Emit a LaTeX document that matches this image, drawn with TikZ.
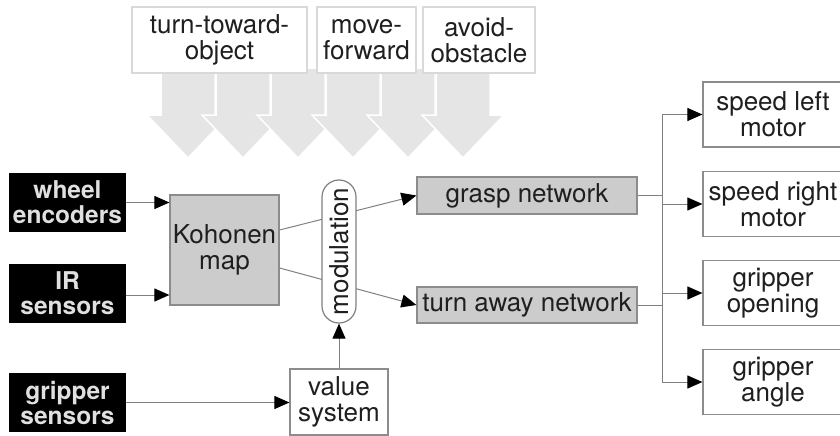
\documentclass[tikz,border=0pt]{standalone}
\usepackage{fontspec}
\setmainfont{TeX Gyre Heros}
\usetikzlibrary{arrows.meta,calc}
\begin{document}
\begin{tikzpicture}[x=1pt,y=-1pt,
  every node/.style={font=\fontsize{26}{26}\selectfont, align=center, inner sep=0pt, text=black!88},
  wbox/.style={draw=black!45, fill=white, line width=1.2pt},
  gbox/.style={draw=black!45, fill=black!20, line width=1.2pt},
  bbox/.style={fill=black, text=white!88!black, font=\fontsize{24.5}{25}\selectfont\bfseries, minimum width=117, minimum height=59},
  topbox/.style={draw=black!15, fill=white, line width=1.5pt, minimum height=66},
  outbox/.style={wbox, minimum width=140, minimum height=65},
  conn/.style={draw=black!50, line width=1pt, -{Triangle[length=15pt,width=13pt,color=black]}},
  plain/.style={draw=black!50, line width=1pt},
  bigarrow/.style={fill=black!10, draw=white, line width=1.5pt}]
\useasboundingbox (0,0) rectangle (840,436);

% big behaviour arrows
\foreach \i in {0,...,5}{
  \pgfmathsetmacro\cx{188+55*\i}
  \path[bigarrow] (\cx-27,68) -- (\cx+27,68) -- (\cx+27,115) -- (\cx+41,115) -- (\cx,158) -- (\cx-41,115) -- (\cx-27,115) -- cycle;
}

% behaviour boxes
\node[topbox, minimum width=175] (t1) at (219.5,40) {turn-toward-\\object};
\node[topbox, minimum width=99]  (t2) at (366.5,40) {move-\\forward};
\node[topbox, minimum width=112] (t3) at (479,40)   {avoid-\\obstacle};

% sensors
\node[bbox] (wheel) at (67.5,202.5) {wheel\\encoders};
\node[bbox] (ir)    at (67.5,293.5) {IR\\sensors};
\node[bbox] (grip)  at (67.5,402.5) {gripper\\sensors};

% processing
\node[gbox, minimum width=109, minimum height=110] (koh) at (224.5,250) {Kohonen\\map};
\node[wbox, minimum width=98, minimum height=66] (val) at (339,402) {value\\system};
\node[gbox, minimum width=220, minimum height=37] (grasp) at (527,195.5) {grasp network};
\node[gbox, minimum width=220, minimum height=36] (turn)  at (527,305) {turn away network};

% outputs
\node[outbox] (o1) at (773,114.5) {speed left\\motor};
\node[outbox] (o2) at (773,204)   {speed right\\motor};
\node[outbox] (o3) at (773,293)   {gripper\\opening};
\node[outbox] (o4) at (773,382)   {gripper\\angle};

% connectors
\draw[conn] (wheel.east) -- (wheel.east -| koh.west);
\draw[conn] ($(ir.east)+(0,1.5)$) -- ($(ir.east -| koh.west)+(0,1.5)$);
\draw[conn] (grip.east) -- (grip.east -| val.west);
\draw[conn] ($(koh.east)+(0,-20)$) -- (grasp.west);
\draw[conn] ($(koh.east)+(0,18)$) -- (turn.west);

% modulation (on top of the lines passing behind)
\node[draw=black!50, fill=white, line width=1.2pt, rounded corners=17pt, minimum width=143, minimum height=34, rotate=90] (mod) at (339,251.5) {modulation};
\draw[conn] (val.north) -- (mod.west);

% output bus
\coordinate (btop) at (662,114.5);
\coordinate (bbot) at (662,382);
\draw[plain] (btop) -- (bbot);
\draw[plain] (grasp.east) -- (grasp.east -| btop);
\draw[plain] (turn.east) -- (turn.east -| btop);
\draw[conn] (btop) -- (o1.west);
\draw[conn] (o2.west -| btop) -- (o2.west);
\draw[conn] (o3.west -| btop) -- (o3.west);
\draw[conn] (bbot) -- (o4.west);
\end{tikzpicture}
\end{document}
